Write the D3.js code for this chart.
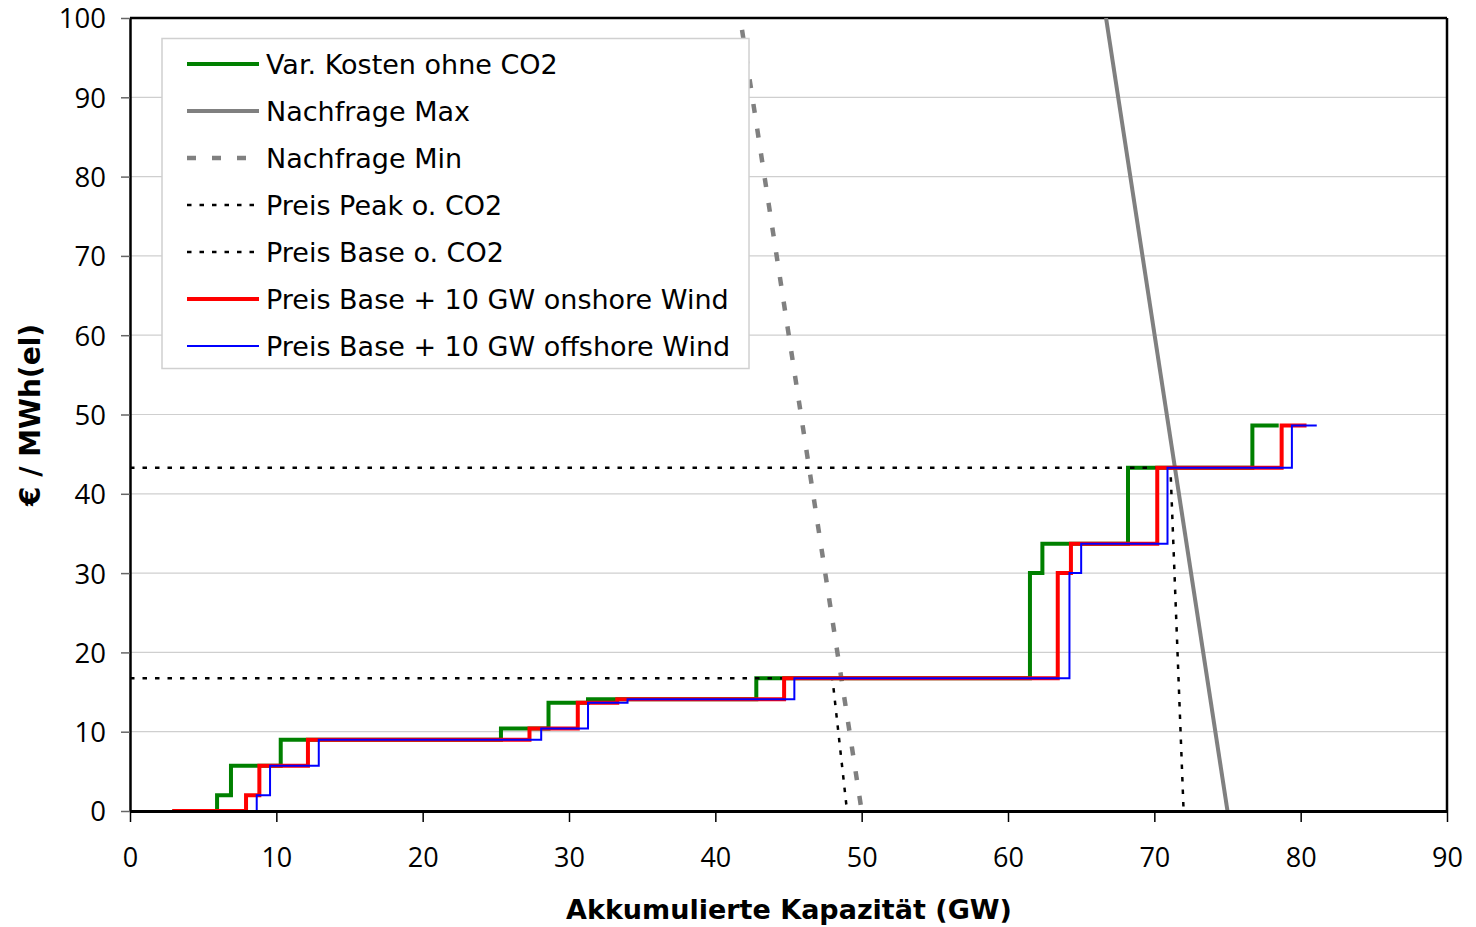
<!DOCTYPE html>
<html>
<head>
<meta charset="utf-8">
<script src="https://cdn.jsdelivr.net/npm/d3@7"></script>
<style>
  html, body { margin: 0; padding: 0; background: #fff; }
  svg { display: block; }
</style>
</head>
<body>
<svg id="chart" width="1476" height="927"></svg>
<script>
// ---------- data ----------
const xTicks = [0, 10, 20, 30, 40, 50, 60, 70, 80, 90];
const yTicks = [0, 10, 20, 30, 40, 50, 60, 70, 80, 90, 100];

// merit order step curves: [capacity GW, price €/MWh] (step starts at the point)
const varKosten = [[2.9,0],[5.95,2.0],[6.9,5.7],[10.3,9.0],[25.35,10.4],[28.6,13.65],[31.3,14.1],[42.8,16.75],[61.5,30.0],[62.35,33.7],[68.2,43.3],[76.7,48.6],[78.5,48.6]];
const onshore   = [[2.9,0],[7.93,2.0],[8.84,5.7],[12.16,9.0],[27.3,10.4],[30.6,13.65],[33.3,14.1],[44.7,16.75],[63.4,30.0],[64.3,33.7],[70.2,43.3],[78.7,48.6],[80.4,48.6]];
const offshore  = [[2.9,0],[8.66,2.0],[9.57,5.7],[12.9,9.0],[28.1,10.4],[31.3,13.65],[34.0,14.1],[45.4,16.75],[64.2,30.0],[65.0,33.7],[70.9,43.3],[79.4,48.6],[81.1,48.6]];

// demand lines
const nachfrageMax = [[66.7,100],[75.0,0]];
const nachfrageMin = [[41.7,100],[50.0,0]];

// price lines
const preisPeak = [[0,43.3],[71.1,43.3],[72.0,0]];
const preisBase = [[0,16.75],[48.0,16.75],[49.0,0]];

const legendLabels = ["Var. Kosten ohne CO2","Nachfrage Max","Nachfrage Min","Preis Peak o. CO2","Preis Base o. CO2","Preis Base + 10 GW onshore Wind","Preis Base + 10 GW offshore Wind"];

// ---------- styles ----------
const S = {
  green: {stroke:"#008000", w:4, dash:null},
  gmax:  {stroke:"#808080", w:4, dash:null},
  gmin:  {stroke:"#808080", w:4.5, dash:"9,16", off:13},
  peak:  {stroke:"#000", w:2.5, dash:"4.5,8"},
  base:  {stroke:"#000", w:2.5, dash:"4.5,8"},
  red:   {stroke:"#ff0000", w:4, dash:null},
  blue:  {stroke:"#0000ff", w:2, dash:null}
};
const legendStyles = [S.green, S.gmax, S.gmin, S.peak, S.base, S.red, S.blue];

// ---------- layout ----------
const L = 130, R = 1447, T = 18, B = 811;
const svg = d3.select("#chart");
const x = d3.scaleLinear().domain([0, 90]).range([L, R]);
const y = d3.scaleLinear().domain([0, 100]).range([B, T]);
const FONT = "'DejaVu Sans', Verdana, sans-serif";
const NUMFONT = "'Open Sans', 'DejaVu Sans', sans-serif";

// gridlines
svg.append("g").selectAll("line").data(yTicks.filter(d => d > 0 && d < 100)).join("line")
  .attr("x1", L).attr("x2", R).attr("y1", d => y(d)).attr("y2", d => y(d))
  .attr("stroke", "#cfcfcf").attr("stroke-width", 1.2);

// frame (top, right)
svg.append("line").attr("x1", L).attr("x2", R).attr("y1", T).attr("y2", T).attr("stroke", "#000").attr("stroke-width", 2.5);
svg.append("line").attr("x1", R).attr("x2", R).attr("y1", T).attr("y2", B).attr("stroke", "#000").attr("stroke-width", 2.5);

const lineGen = d3.line().x(d => x(d[0])).y(d => y(d[1]));
const stepGen = d3.line().x(d => x(d[0])).y(d => y(d[1])).curve(d3.curveStepAfter);

svg.append("defs").append("clipPath").attr("id", "plotclip")
  .append("rect").attr("x", L).attr("y", T).attr("width", R - L).attr("height", B - T);
const plot = svg.append("g").attr("clip-path", "url(#plotclip)");

function draw(gen, data, st) {
  const p = plot.append("path").attr("d", gen(data)).attr("fill", "none")
    .attr("stroke", st.stroke).attr("stroke-width", st.w)
    .attr("stroke-linejoin", "miter").attr("stroke-linecap", "butt");
  if (st.dash) p.attr("stroke-dasharray", st.dash);
  if (st.off) p.attr("stroke-dashoffset", st.off);
  return p;
}

draw(lineGen, nachfrageMin, S.gmin);
draw(lineGen, nachfrageMax, S.gmax);
draw(stepGen, varKosten, S.green);
draw(lineGen, preisPeak, S.peak);
draw(lineGen, preisBase, S.base);
draw(stepGen, onshore, S.red);
draw(stepGen, offshore, S.blue);

// axes
const xAxis = svg.append("g").attr("transform", `translate(0,${B})`)
  .call(d3.axisBottom(x).tickValues(xTicks).tickSize(11).tickSizeOuter(0).tickFormat(d3.format("d")));
xAxis.select(".domain").attr("stroke", "#000").attr("stroke-width", 3);
xAxis.selectAll(".tick line").attr("stroke", "#000").attr("stroke-width", 1.5);
xAxis.selectAll(".tick text").attr("font-family", NUMFONT).attr("font-size", 27)
  .attr("fill", "#000").attr("y", 0).attr("dy", 56);

const yAxis = svg.append("g").attr("transform", `translate(${L},0)`)
  .call(d3.axisLeft(y).tickValues(yTicks).tickSize(9).tickSizeOuter(0).tickFormat(d3.format("d")));
yAxis.select(".domain").attr("stroke", "#000").attr("stroke-width", 2.5);
yAxis.selectAll(".tick line").attr("stroke", "#666").attr("stroke-width", 1.5);
yAxis.selectAll(".tick text").attr("font-family", NUMFONT).attr("font-size", 27.5)
  .attr("fill", "#000").attr("x", -24).attr("dy", "0.36em");

// axis titles
svg.append("text").attr("x", (L + R) / 2 + 0.5).attr("y", 919).attr("text-anchor", "middle")
  .attr("font-family", FONT).attr("font-weight", "bold").attr("font-size", 27)
  .text("Akkumulierte Kapazität (GW)");
svg.append("text").attr("transform", "translate(40,415) rotate(-90)").attr("text-anchor", "middle")
  .attr("font-family", FONT).attr("font-weight", "bold").attr("font-size", 28)
  .text("€ / MWh(el)");

// legend
const lg = svg.append("g");
lg.append("rect").attr("x", 162).attr("y", 38.5).attr("width", 587).attr("height", 330)
  .attr("fill", "#fff").attr("stroke", "#d0d0d0").attr("stroke-width", 1.5);
legendLabels.forEach((lab, i) => {
  const cy = 64 + i * 47;
  const st = legendStyles[i];
  const ln = lg.append("line").attr("x1", 187).attr("x2", 259).attr("y1", cy).attr("y2", cy)
    .attr("stroke", st.stroke).attr("stroke-width", st.w);
  if (st.dash) ln.attr("stroke-dasharray", st.dash);
  lg.append("text").attr("x", 266).attr("y", cy).attr("dy", "0.36em")
    .attr("font-family", FONT).attr("font-size", 27)
    .attr("fill", "#000").text(lab);
});
</script>
</body>
</html>
